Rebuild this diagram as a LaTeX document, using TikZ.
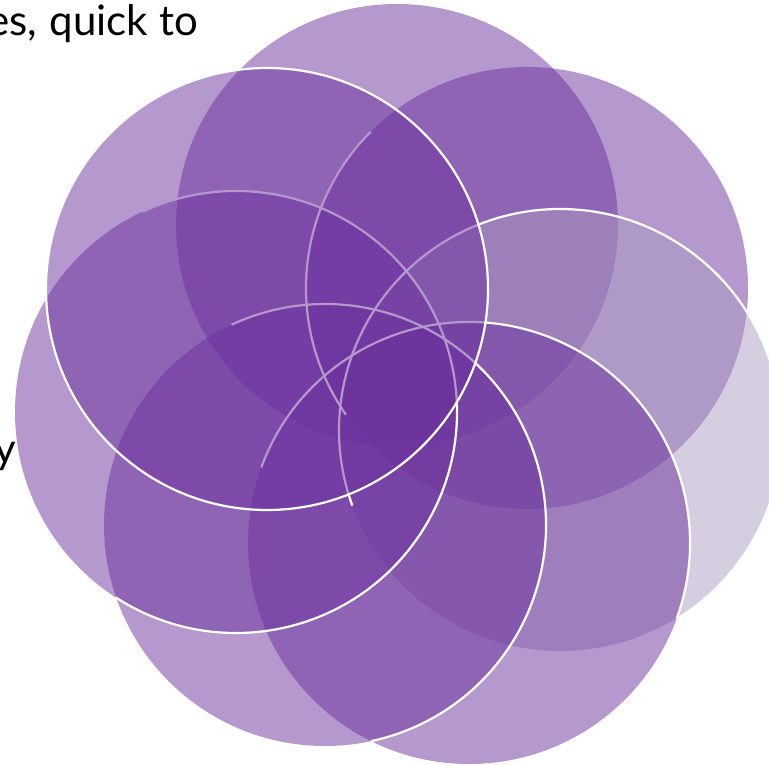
\documentclass[tikz,border=0pt]{standalone}
\usepackage{fontspec}
\setmainfont{Lato}
\usepackage{xcolor}
\definecolor{petal}{RGB}{107,49,157}
\definecolor{petalgray}{RGB}{171,155,193}

\begin{document}
\begin{tikzpicture}[x=1pt, y=1pt,
  disc/.style={fill=petal, fill opacity=0.5},
  rim/.style={draw=white, line width=2.2pt},
  words/.style={font=\fontsize{42}{48}\selectfont, text=black, inner sep=0pt}]
\useasboundingbox (0,0) rectangle (769,764);
\clip (0,0) rectangle (769,764);
\def\rr{221}
% seven petals, top one first, then round to the right
\coordinate (top) at (397,539);
\coordinate (tl) at (267,475);
\coordinate (tr) at (527,476);
\coordinate (rt) at (560,334);
\coordinate (br) at (469,221);
\coordinate (bl) at (325,239);
\coordinate (lf) at (236,352);
\fill[disc] (top) circle[radius=\rr];
\fill[disc] (tr) circle[radius=\rr];
\fill[disc, fill=petalgray] (rt) circle[radius=\rr];
\fill[disc] (br) circle[radius=\rr];
\fill[disc] (bl) circle[radius=\rr];
\fill[disc] (lf) circle[radius=\rr];
% white rims, only on the leading side of each petal
\foreach \c/\a/\b in {tr/135/215, rt/0/200, br/-20/160, bl/-78/115, lf/-123/115}
  \draw[rim] (\c) ++(\a:\rr) arc[start angle=\a, end angle=\b, radius=\rr];
\fill[disc] (tl) circle[radius=\rr];
\draw[rim] (tl) circle[radius=\rr];
\node[words, anchor=base east] (cut) at (198,728) {es,\hspace{2pt} quick to};
\node[words, anchor=base east] (edge) at (16,300) {y};
\end{tikzpicture}
\end{document}
